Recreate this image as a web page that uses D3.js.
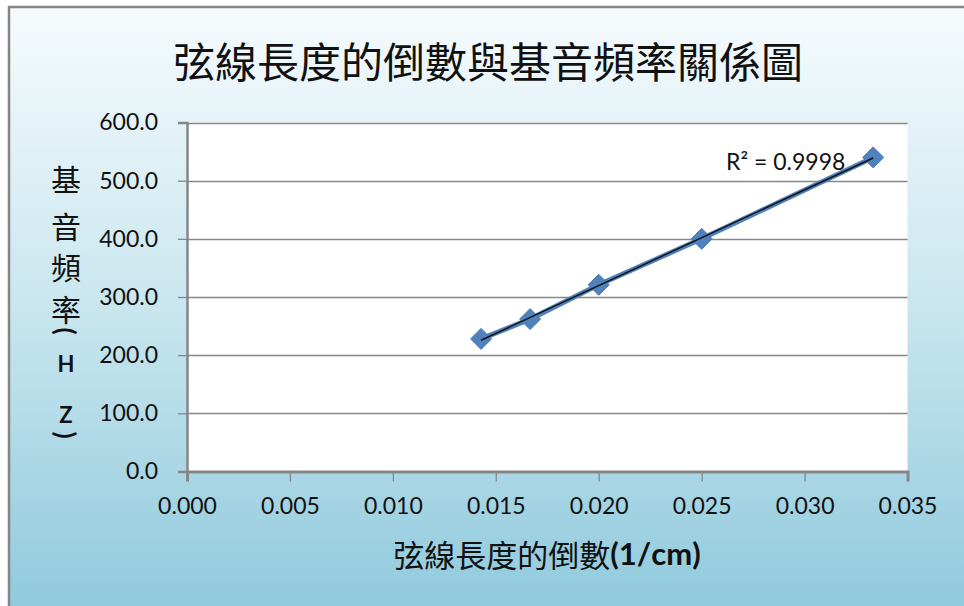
<!DOCTYPE html>
<html><head><meta charset="utf-8">
<script src="https://cdn.jsdelivr.net/npm/d3@7"></script>
<style>
html,body{margin:0;padding:0;background:#fff;}
svg{display:block;}
</style></head>
<body>
<script>
// ---- data ----
const chartTitle = "弦線長度的倒數與基音頻率關係圖";
const xTitleCJK = "弦線長度的倒數";
const xTitleUnit = "(1/cm)";
const yTitleChars = ["基","音","頻","率","(","H","Z",")"];
const xValues = [1/70, 1/60, 1/50, 1/40, 1/30];
const yValues = [228, 262, 321, 400, 540];
const xTicks = [0, 0.005, 0.010, 0.015, 0.020, 0.025, 0.030, 0.035];
const yTicks = [0, 100, 200, 300, 400, 500, 600];
const r2Label = "R² = 0.9998";

const W = 964, H = 606;
const svg = d3.select("body").append("svg").attr("width", W).attr("height", H);

const defs = svg.append("defs");
const grad = defs.append("linearGradient").attr("id","bg").attr("x1",0).attr("y1",0).attr("x2",0).attr("y2",1);
grad.append("stop").attr("offset","0%").attr("stop-color","#f6fbfd");
grad.append("stop").attr("offset","50%").attr("stop-color","#c9e6ef");
grad.append("stop").attr("offset","100%").attr("stop-color","#90cadd");

svg.append("rect").attr("x",9).attr("y",7).attr("width",W-9).attr("height",H-7).attr("fill","url(#bg)");
svg.append("path").attr("d",`M9,${H} V7 H${W}`).attr("fill","none").attr("stroke","#858585").attr("stroke-width",2.5);

const m = {left:187, right:907.5, top:122.5, bottom:471.5};
const x = d3.scaleLinear().domain([0,0.035]).range([m.left, m.right]);
const y = d3.scaleLinear().domain([0,600]).range([m.bottom, m.top]);

svg.append("rect").attr("x",m.left).attr("y",m.top).attr("width",m.right-m.left).attr("height",m.bottom-m.top).attr("fill","#fff");

// gridlines
svg.append("g").selectAll("line").data(yTicks.filter(d=>d>0)).join("line")
  .attr("x1",m.left).attr("x2",m.right).attr("y1",d=>Math.round(y(d))+0.5).attr("y2",d=>Math.round(y(d))+0.5)
  .attr("stroke","#868686").attr("stroke-width",1.3);

const font = "Lato, 'Open Sans', sans-serif";

// y axis
const yAxis = svg.append("g").attr("transform",`translate(${m.left},0)`)
  .call(d3.axisLeft(y).tickValues(yTicks).tickFormat(d3.format(".1f")).tickSize(9).tickPadding(20));
yAxis.select(".domain").attr("stroke","#868686").attr("stroke-width",2.5);
yAxis.selectAll(".tick line").attr("stroke","#868686").attr("stroke-width",1.3);
yAxis.selectAll("text").attr("font-family",font).attr("font-size",23).attr("fill","#111");

// x axis
const xAxis = svg.append("g").attr("transform",`translate(0,${m.bottom})`)
  .call(d3.axisBottom(x).tickValues(xTicks).tickFormat(d3.format(".3f")).tickSize(10).tickPadding(16));
xAxis.select(".domain").attr("stroke","#868686").attr("stroke-width",3);
xAxis.selectAll(".tick line").attr("stroke","#868686").attr("stroke-width",1.3);
xAxis.selectAll("text").attr("font-family",font).attr("font-size",23).attr("fill","#111");

// series line
const pts = xValues.map((v,i)=>[v,yValues[i]]);
svg.append("path").datum(pts).attr("d",d3.line().x(d=>x(d[0])).y(d=>y(d[1])))
  .attr("fill","none").attr("stroke","#4f81bd").attr("stroke-width",5);

// markers
const hd = 10.5;
svg.append("g").selectAll("path").data(pts).join("path")
  .attr("d",d=>{const cx=x(d[0]), cy=y(d[1]); return `M${cx},${cy-hd} L${cx+hd},${cy} L${cx},${cy+hd} L${cx-hd},${cy} Z`;})
  .attr("fill","#4f81bd").attr("stroke","#4a7ab3").attr("stroke-width",1);

// linear trendline (least squares)
const mx = d3.mean(xValues), my = d3.mean(yValues);
const slope = d3.sum(pts,d=>(d[0]-mx)*(d[1]-my))/d3.sum(pts,d=>(d[0]-mx)**2);
const icpt = my - slope*mx;
const x0 = d3.min(xValues), x1 = d3.max(xValues);
svg.append("line").attr("x1",x(x0)).attr("y1",y(icpt+slope*x0)).attr("x2",x(x1)).attr("y2",y(icpt+slope*x1))
  .attr("stroke","#111").attr("stroke-width",1.5);

// R2 label
svg.append("text").attr("x",726).attr("y",170).attr("font-family",font).attr("font-size",23).attr("fill","#111").text(r2Label);

// title
svg.append("text").attr("x",488).attr("y",59).attr("text-anchor","middle").attr("dominant-baseline","central")
  .attr("font-family","'Noto Sans CJK TC', sans-serif").attr("font-size",42).attr("fill","#111").text(chartTitle);

// x title
const xt = svg.append("text").attr("x",547).attr("y",553).attr("text-anchor","middle").attr("dominant-baseline","central")
  .attr("fill","#111").attr("font-size",31);
xt.append("tspan").attr("font-family","'Noto Sans CJK TC', sans-serif").text(xTitleCJK);
xt.append("tspan").attr("font-family",font).attr("font-weight","bold").text(xTitleUnit);

// y title (vertical stacked, parentheses rotated)
const yCharY = [178, 225, 266, 308, 331, 363, 414, 435];
svg.append("g").selectAll("text").data(yTitleChars).join("text")
  .attr("transform",(d,i)=>`translate(66,${yCharY[i]})` + (/[()]/.test(d)?" rotate(90)":""))
  .attr("text-anchor","middle").attr("dominant-baseline","central")
  .attr("font-family",(d)=>/[HZ()]/.test(d)?font:"'Noto Sans CJK TC', sans-serif")
  .attr("font-weight",(d)=>/[HZ()]/.test(d)?"bold":"normal")
  .attr("font-size",(d)=>/[HZ]/.test(d)?22:(/[()]/.test(d)?26:30)).attr("fill","#111").text(d=>d);
</script>
</body></html>
